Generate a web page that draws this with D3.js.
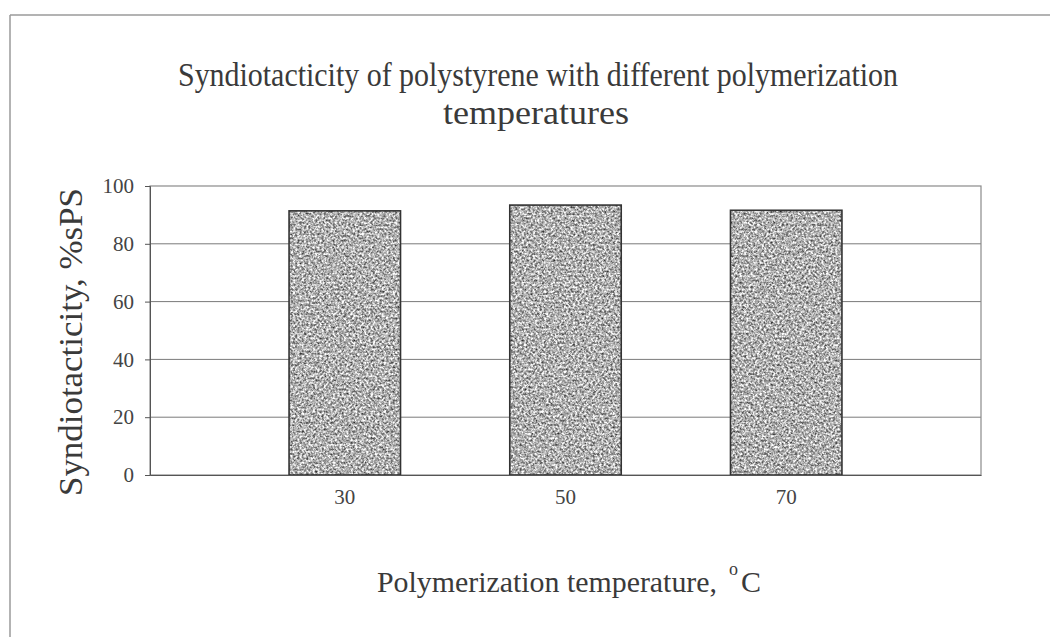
<!DOCTYPE html>
<html>
<head>
<meta charset="utf-8">
<script src="https://cdn.jsdelivr.net/npm/d3@7"></script>
<style>
  html, body { margin: 0; padding: 0; background: #fff; }
  svg { display: block; }
</style>
</head>
<body>
<svg id="chart" width="1050" height="637"></svg>
<script>
const categories = ["30", "50", "70"];
const values = [91.4, 93.4, 91.6];
const yTicks = [0, 20, 40, 60, 80, 100];
const titleLines = ["Syndiotacticity of polystyrene with different polymerization", "temperatures"];
const yTitle = "Syndiotacticity, %sPS";
const xTitle = "Polymerization temperature,";

const svg = d3.select("#chart");
const W = 1050, H = 637;
const m = { left: 150, top: 186, right: 981, bottom: 475 };
const font = "'Liberation Serif', 'Times New Roman', serif";
const textCol = "#3a3a3a";

// speckled texture for bars
const defs = svg.append("defs");
const f = defs.append("filter").attr("id", "speckle").attr("x", 0).attr("y", 0).attr("width", 1).attr("height", 1)
  .attr("color-interpolation-filters", "sRGB");
f.append("feTurbulence").attr("type", "fractalNoise").attr("baseFrequency", 0.45).attr("numOctaves", 3).attr("seed", 7).attr("result", "noise");
f.append("feColorMatrix").attr("in", "noise").attr("type", "matrix")
  .attr("values", "1.3 0 0 0 0.04  1.3 0 0 0 0.04  1.3 0 0 0 0.04  0 0 0 0 1").attr("result", "gray");
f.append("feComposite").attr("in", "gray").attr("in2", "SourceGraphic").attr("operator", "in");

// outer frame
svg.append("line").attr("x1", 10).attr("x2", 1050).attr("y1", 15).attr("y2", 15).attr("stroke", "#9a9a9a").attr("stroke-width", 1.5);
svg.append("line").attr("x1", 10).attr("x2", 10).attr("y1", 15).attr("y2", H).attr("stroke", "#9a9a9a").attr("stroke-width", 1.5);

const x = d3.scaleBand().domain(categories).range([m.left, m.right]).paddingInner(0.495).paddingOuter(0.63);
const y = d3.scaleLinear().domain([0, 100]).range([m.bottom, m.top]);

// gridlines
svg.append("g").selectAll("line").data(yTicks.filter(t => t > 0 && t < 100)).join("line")
  .attr("x1", m.left).attr("x2", m.right)
  .attr("y1", d => y(d)).attr("y2", d => y(d))
  .attr("stroke", "#7a7a7a").attr("stroke-width", 1);

// plot border
svg.append("rect").attr("x", m.left).attr("y", m.top).attr("width", m.right - m.left).attr("height", m.bottom - m.top)
  .attr("fill", "none").attr("stroke", "#8a8a8a").attr("stroke-width", 1.2);

// bars
svg.append("g").selectAll("rect").data(values).join("rect")
  .attr("x", (d, i) => x(categories[i]))
  .attr("y", d => y(d))
  .attr("width", x.bandwidth())
  .attr("height", d => y(0) - y(d))
  .attr("fill", "#b0b0b0")
  .attr("filter", "url(#speckle)");
svg.append("g").selectAll("rect").data(values).join("rect")
  .attr("x", (d, i) => x(categories[i]))
  .attr("y", d => y(d))
  .attr("width", x.bandwidth())
  .attr("height", d => y(0) - y(d))
  .attr("fill", "none").attr("stroke", "#333").attr("stroke-width", 1.6);

// y axis
const yAxis = svg.append("g").attr("transform", `translate(${m.left},0)`)
  .call(d3.axisLeft(y).tickValues(yTicks).tickSize(5).tickPadding(11));
yAxis.select(".domain").attr("stroke", "#555");
yAxis.selectAll(".tick line").attr("stroke", "#555");
yAxis.selectAll("text").attr("font-family", font).attr("font-size", 21).attr("fill", "#444");

// x axis
const xAxis = svg.append("g").attr("transform", `translate(0,${m.bottom})`)
  .call(d3.axisBottom(x).tickSize(0).tickPadding(14));
xAxis.select(".domain").attr("stroke", "#555");
xAxis.selectAll("text").attr("font-family", font).attr("font-size", 21).attr("fill", "#444");

// title
svg.append("text").attr("x", 538).attr("y", 86).attr("text-anchor", "middle")
  .attr("font-family", font).attr("font-size", 33).attr("fill", textCol)
  .attr("textLength", 720).attr("lengthAdjust", "spacingAndGlyphs")
  .text(titleLines[0]);
svg.append("text").attr("x", 536).attr("y", 124).attr("text-anchor", "middle")
  .attr("font-family", font).attr("font-size", 33).attr("fill", textCol)
  .attr("textLength", 186).attr("lengthAdjust", "spacingAndGlyphs")
  .text(titleLines[1]);

// y title
svg.append("text").attr("transform", "translate(82,342) rotate(-90)").attr("text-anchor", "middle")
  .attr("font-family", font).attr("font-size", 33).attr("fill", textCol)
  .attr("textLength", 308).attr("lengthAdjust", "spacingAndGlyphs")
  .text(yTitle);

// x title
svg.append("text").attr("x", 377).attr("y", 592)
  .attr("font-family", font).attr("font-size", 30).attr("fill", textCol)
  .attr("textLength", 340).attr("lengthAdjust", "spacingAndGlyphs")
  .text(xTitle);
svg.append("text").attr("x", 729).attr("y", 575)
  .attr("font-family", font).attr("font-size", 18).attr("fill", textCol).text("o");
svg.append("text").attr("x", 741).attr("y", 592)
  .attr("font-family", font).attr("font-size", 30).attr("fill", textCol).text("C");
</script>
</body>
</html>
